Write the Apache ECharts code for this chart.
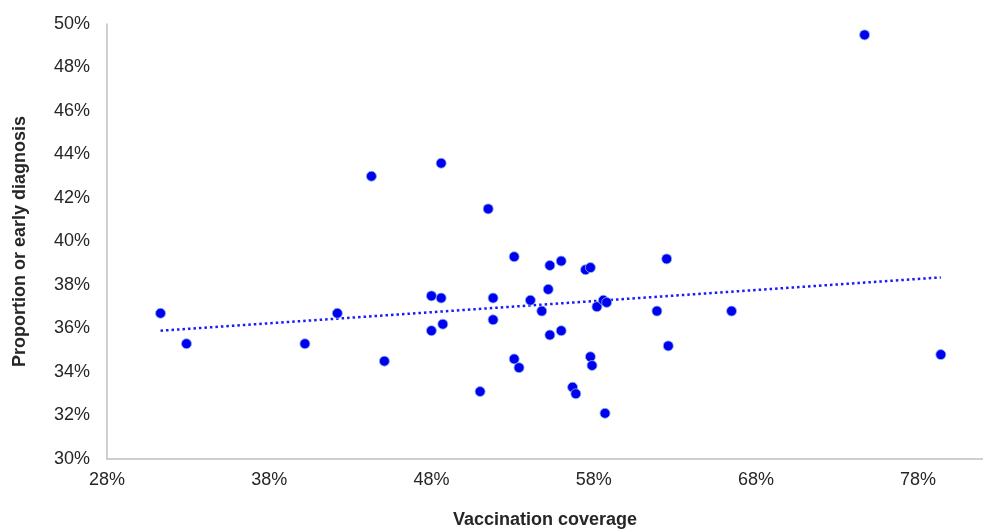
<!DOCTYPE html>
<html>
<head>
<meta charset="utf-8">
<script src="https://cdn.jsdelivr.net/npm/echarts@6/dist/echarts.min.js"></script>
<style>
  html, body { margin: 0; padding: 0; background: #fff; }
  #chart { width: 983px; height: 530px; }
</style>
</head>
<body>
<div id="chart"></div>
<script>
// vaccination coverage (%) per point
const coverage = [
  31.3, 32.9, 40.2, 42.2, 44.3, 45.1, 48.0, 48.6, 48.0, 48.7,
  48.6, 51.0, 51.5, 51.8, 51.8, 53.1, 53.1, 53.4, 54.1, 54.8,
  55.2, 55.3, 55.3, 56.0, 56.0, 56.7, 56.9, 57.5, 57.8, 57.8,
  57.9, 58.2, 58.6, 58.8, 58.7, 61.9, 62.5, 62.6, 66.5, 74.7,
  79.4,
]
// proportion of early diagnosis (%) per point
const earlyDiag = [
  36.7, 35.3, 35.3, 36.7, 43.0, 34.5, 37.5, 37.4, 35.9, 36.2,
  43.6, 33.1, 41.5, 37.4, 36.4, 39.3, 34.6, 34.2, 37.3, 36.8,
  37.8, 38.9, 35.7, 39.1, 35.9, 33.3, 33.0, 38.7, 38.8, 34.7,
  34.3, 37.0, 37.3, 37.2, 32.1, 36.8, 39.2, 35.2, 36.8, 49.5,
  34.8,
]
// linear trend line end points
const trendX = [31.3, 79.4]
const trendY = [35.9, 38.35]

const xTicks = [28, 38, 48, 58, 68, 78]

const chart = echarts.init(document.getElementById('chart'))
const labelFont = { color: '#262626', fontSize: 18, fontFamily: 'Liberation Sans, Arial, sans-serif' }
const nameFont = { color: '#262626', fontSize: 18, fontWeight: 'bold', fontFamily: 'Liberation Sans, Arial, sans-serif' }

chart.setOption({
  animation: false,
  backgroundColor: '#fff',
  grid: { left: 107, right: 0, top: 24, bottom: 71, outerBoundsMode: 'none' },
  xAxis: {
    type: 'value',
    min: 28,
    max: 82,
    interval: 10,
    name: 'Vaccination coverage',
    nameLocation: 'middle',
    nameGap: 52,
    nameTextStyle: nameFont,
    axisLine: { show: true, lineStyle: { color: '#c0c0c0', width: 1.5 } },
    axisTick: { show: false },
    splitLine: { show: false },
    axisLabel: {
      ...labelFont,
      margin: 12,
      showMaxLabel: false,
      formatter: (v) => (xTicks.includes(Math.round(v)) ? Math.round(v) + '%' : ''),
    },
  },
  yAxis: {
    type: 'value',
    min: 30,
    max: 50,
    interval: 2,
    name: 'Proportion or early diagnosis',
    nameLocation: 'middle',
    nameGap: 78,
    nameTextStyle: nameFont,
    axisLine: { show: true, lineStyle: { color: '#c0c0c0', width: 1.5 } },
    axisTick: { show: false },
    splitLine: { show: false },
    axisLabel: { ...labelFont, margin: 17, formatter: '{value}%' },
  },
  series: [
    {
      type: 'line',
      data: trendX.map((x, i) => [x, trendY[i]]),
      symbol: 'none',
      lineStyle: { color: '#1a1aff', width: 2.5, type: [2.5, 3] },
      z: 1,
    },
    {
      type: 'scatter',
      data: coverage.map((x, i) => [x, earlyDiag[i]]),
      symbolSize: 10,
      itemStyle: { color: '#0000f0', opacity: 1, borderColor: 'rgba(140,180,235,0.8)', borderWidth: 1 },
      z: 2,
    },
  ],
})
</script>
</body>
</html>
